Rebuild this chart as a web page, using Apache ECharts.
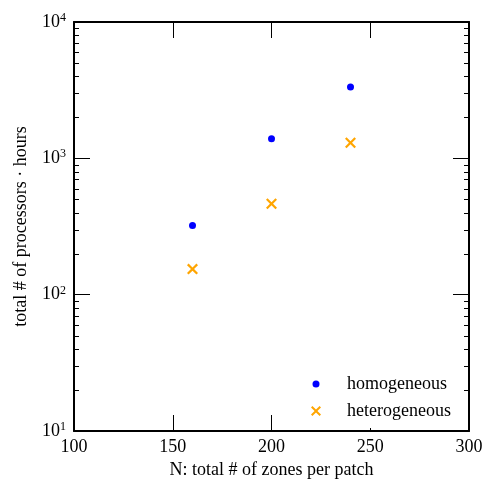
<!DOCTYPE html>
<html>
<head>
<meta charset="utf-8">
<script src="https://cdn.jsdelivr.net/npm/echarts@6/dist/echarts.min.js"></script>
<style>
  html, body { margin: 0; padding: 0; background: #fff; }
  #chart { width: 498px; height: 495px; }
</style>
</head>
<body>
<div id="chart"></div>
<script>
'use strict';
// data
const nZones = [160, 200, 240];
const homogeneous = [321, 1393, 3335];
const heterogeneous = [154, 464, 1302];

const xMin = 100;
const xMax = 300;
const xStep = 50;
const yMin = 10;
const yMax = 10000;
const decades = [10, 100, 1000];
const minorSteps = [2, 3, 4, 5, 6, 7, 8, 9];

const FONT = 'Liberation Serif';
const FS = 18;
const dotIcon = 'path://M0,0M10,10M5,1.5A3.5,3.5,0,1,1,5,8.5A3.5,3.5,0,1,1,5,1.5Z';
const crossIcon = 'path://M0,1.4L1.4,0L5,3.6L8.6,0L10,1.4L6.4,5L10,8.6L8.6,10L5,6.4L1.4,10L0,8.6L3.6,5Z';

function init() {
    const chart = echarts.init(document.getElementById('chart'));

    const minorTicks = [];
    decades.forEach((d) => {
        minorSteps.forEach((m) => minorTicks.push([xMin, d * m]));
    });

    const tickStyle = { color: '#000', width: 1 };
    const lineStyle = { color: '#000', width: 2 };

    const xBase = {
        type: 'value',
        min: xMin,
        max: xMax,
        interval: xStep,
        axisLine: { show: true, lineStyle: lineStyle },
        axisTick: { show: true, inside: true, length: 16, lineStyle: tickStyle },
        splitLine: { show: false },
    };
    const yBase = {
        type: 'log',
        logBase: 10,
        min: yMin,
        max: yMax,
        axisLine: { show: true, lineStyle: lineStyle },
        axisTick: { show: true, inside: true, length: 16, lineStyle: tickStyle },
        splitLine: { show: false },
    };

    const option = {
        animation: false,
        backgroundColor: '#fff',
        grid: { left: 74, right: 29, top: 22, bottom: 64 },
        xAxis: [
            Object.assign({}, xBase, {
                position: 'bottom',
                name: 'N: total # of zones per patch',
                nameLocation: 'middle',
                nameGap: 30,
                nameTextStyle: { fontFamily: FONT, fontSize: FS, color: '#000' },
                axisLabel: { margin: 7, fontFamily: FONT, fontSize: FS, color: '#000' },
            }),
            Object.assign({}, xBase, {
                position: 'top',
                axisLabel: { show: false },
            }),
        ],
        yAxis: [
            Object.assign({}, yBase, {
                position: 'left',
                name: 'total # of processors · hours',
                nameLocation: 'middle',
                nameGap: 44,
                nameTextStyle: { fontFamily: FONT, fontSize: FS, color: '#000' },
                axisLabel: {
                    margin: 8,
                    formatter: (v) => '{b|10}{s|' + Math.round(Math.log10(v)) + '}',
                    rich: {
                        b: { fontFamily: FONT, fontSize: FS, color: '#000' },
                        s: { fontFamily: FONT, fontSize: 12, color: '#000', verticalAlign: 'bottom', padding: [0, 0, 8, 0] },
                    },
                },
            }),
            Object.assign({}, yBase, {
                position: 'right',
                axisLabel: { show: false },
            }),
        ],
        legend: {
            orient: 'vertical',
            left: 303,
            top: 367,
            padding: [8, 5, 8, 8],
            backgroundColor: '#fff',
            itemWidth: 52,
            itemHeight: 10,
            itemGap: 9,
            textStyle: { fontFamily: FONT, fontSize: FS, color: '#000', lineHeight: 16 },
            data: [
                { name: 'homogeneous', icon: dotIcon },
                { name: 'heterogeneous', icon: crossIcon },
            ],
        },
        series: [
            {
                name: 'homogeneous',
                type: 'scatter',
                symbol: 'circle',
                symbolSize: 7,
                itemStyle: { color: '#0000ff', opacity: 1 },
                data: nZones.map((n, i) => [n, homogeneous[i]]),
            },
            {
                name: 'heterogeneous',
                type: 'scatter',
                symbol: crossIcon,
                symbolSize: 11,
                itemStyle: { color: '#ffa500', opacity: 1 },
                data: nZones.map((n, i) => [n, heterogeneous[i]]),
            },
            {
                // minor ticks of the log axis, left and right
                type: 'custom',
                silent: true,
                data: minorTicks,
                renderItem: (params, api) => {
                    const y = Math.round(api.coord([api.value(0), api.value(1)])[1]) + 0.5;
                    const cs = params.coordSys;
                    return {
                        type: 'group',
                        children: [
                            { type: 'line', shape: { x1: cs.x, y1: y, x2: cs.x + 5, y2: y }, style: { stroke: '#000', lineWidth: 1 } },
                            { type: 'line', shape: { x1: cs.x + cs.width - 5, y1: y, x2: cs.x + cs.width, y2: y }, style: { stroke: '#000', lineWidth: 1 } },
                        ],
                    };
                },
            },
        ],
    };

    chart.setOption(option);
    window.addEventListener('resize', () => chart.resize());
}

init();
</script>
</body>
</html>
